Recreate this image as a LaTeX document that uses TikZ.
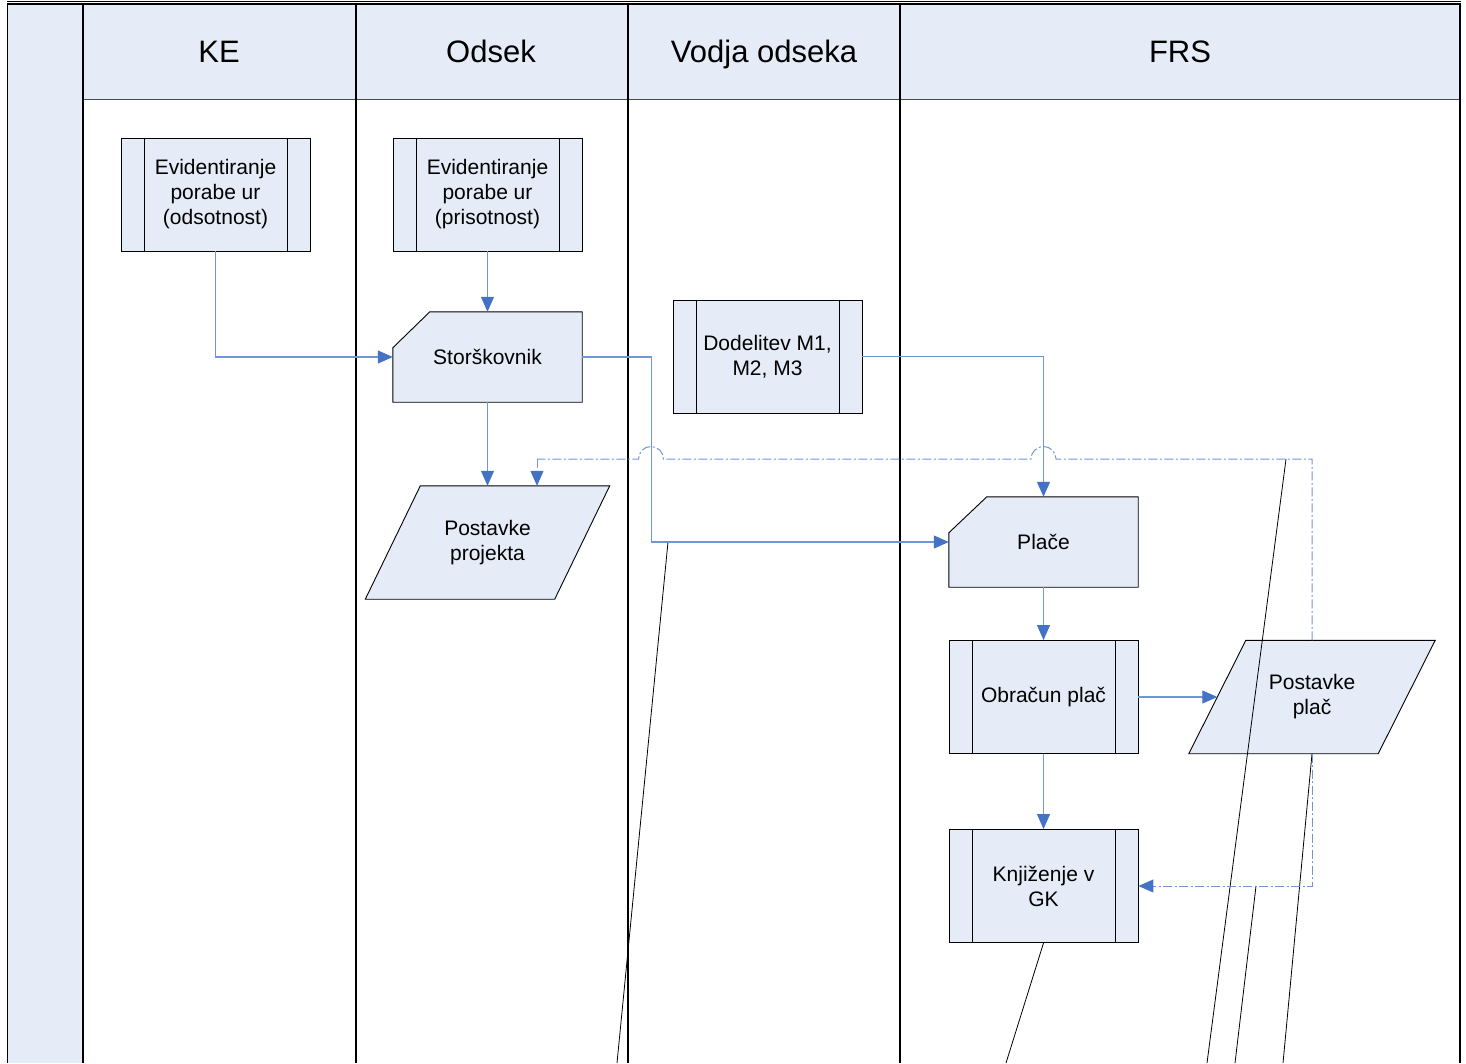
\documentclass[tikz,border=0pt]{standalone}
\usepackage{fontspec}
\setmainfont{Liberation Sans}
\usetikzlibrary{arrows.meta,calc}
\definecolor{lanefill}{HTML}{E6ECF7}
\definecolor{shapefill}{HTML}{E5ECF7}
\definecolor{conn}{HTML}{7096D6}
\definecolor{tipc}{HTML}{4472C4}
\pgfdeclarelayer{background}
\pgfsetlayers{background,main}
\begin{document}
\begin{tikzpicture}[x=1pt,y=-1pt,
  lbl/.style={font=\fontsize{21}{25}\selectfont, align=center, text=black},
  hdr/.style={font=\fontsize{31}{36}\selectfont, text=black, anchor=base, inner sep=0pt},
  box/.style={lbl, draw=black, line width=0.9pt, fill=shapefill, minimum width=189, minimum height=113, inner sep=0pt},
  subproc/.style={box, path picture={\draw[line width=0.9pt] ([xshift=23]path picture bounding box.north west) -- ([xshift=23]path picture bounding box.south west) ([xshift=-23]path picture bounding box.north east) -- ([xshift=-23]path picture bounding box.south east);}},
  ghost/.style={lbl, minimum width=189, minimum height=113, inner sep=0pt},
  cardghost/.style={lbl, minimum width=189, minimum height=90, inner sep=0pt},
  shapeline/.style={draw=black, line width=0.9pt, fill=shapefill},
  flow/.style={draw=conn, line width=1.1pt, -{Triangle[length=15pt,width=13pt,color=tipc]}},
  dd/.style={draw=conn, line width=1pt, dash pattern=on 9pt off 2.5pt on 2pt off 2.5pt},
  stray/.style={draw=black, line width=0.8pt},
  lane/.style={draw=black, line width=1.3pt}
]
\useasboundingbox (0,0) rectangle (1466,1063);
% pool background
\fill[lanefill] (8,5) rectangle (83,1063);
\fill[lanefill] (83,5) rectangle (1460,99.5);
\draw[line width=0.8pt] (7,1) -- (1461,1);
\draw[line width=1.3pt] (7,4) -- (1461,4);
\draw[line width=1.5pt] (7.5,4) -- (7.5,1063);
\draw[draw=black!70, line width=1.3pt] (83,99.5) -- (1460,99.5);
\foreach \xx in {83,356,628,900,1460} \draw[lane] (\xx,4) -- (\xx,1063);
\node[hdr] (hKE) at (219,62) {KE};
\node[hdr] (hOd) at (491,62) {Odsek};
\node[hdr] (hVo) at (764,62) {Vodja odseka};
\node[hdr] (hFR) at (1180,62) {FRS};

% shapes
\node[subproc] (ev1) at (215.5,194.5) {Evidentiranje\\porabe ur\\(odsotnost)};
\node[subproc] (ev2) at (487.5,194.5) {Evidentiranje\\porabe ur\\(prisotnost)};
\node[cardghost] (stors) at (487.5,357) {Storškovnik};
\node[subproc] (dod) at (767.5,356.5) {Dodelitev M1,\\M2, M3};
\node[ghost] (pproj) at (487.5,542.5) {Postavke\\projekta};
\node[cardghost] (place) at (1043.5,542) {Plače};
\node[subproc] (obr) at (1043.5,697) {Obračun plač};
\node[ghost] (pplac) at (1312,697) {Postavke\\plač};
\node[subproc] (knj) at (1043.5,886) {Knjiženje v\\GK};

\begin{pgfonlayer}{background}
\draw[shapeline] (stors.south west) -- (stors.south east) -- (stors.north east) -- ([xshift=37]stors.north west) -- ([yshift=-36]stors.north west) -- cycle;
\draw[shapeline] (place.south west) -- (place.south east) -- (place.north east) -- ([xshift=38]place.north west) -- ([yshift=-36]place.north west) -- cycle;
\draw[shapeline] ([xshift=27.5]pproj.north west) -- ([xshift=27.5]pproj.north east) -- ([xshift=-27.5]pproj.south east) -- ([xshift=-27.5]pproj.south west) -- cycle;
\draw[shapeline] ([xshift=28.5]pplac.north west) -- ([xshift=28.5]pplac.north east) -- ([xshift=-28.5]pplac.south east) -- ([xshift=-28.5]pplac.south west) -- cycle;
\end{pgfonlayer}

% stray lines
\draw[stray] (668,542) -- (617,1063);
\draw[stray] (knj.south) -- (1006,1063);
\draw[stray] (1286,459) -- (1207,1063);
\draw[stray] (1256,886) -- (1235,1063);
\draw[stray] (pplac.south) -- (1283,1063);

% connectors
\draw[flow] (ev1.south) |- (stors.west);
\draw[flow] (ev2.south) -- (stors.north);
\draw[flow] (stors.south) -- (pproj.north);
\draw[flow] (stors.east) -- ++(69,0) |- (place.west);
\draw[flow] (dod.east) -| (place.north);
\draw[flow] (place.south) -- (obr.north);
\draw[flow] (obr.east) -- (pplac.west);
\draw[flow] (obr.south) -- (knj.north);
\draw[dd] (pplac.north) |- (1056,459) arc[start angle=0,end angle=-180,radius=12.5] -- (663.5,459) arc[start angle=0,end angle=-180,radius=12.5] -- (537,459) coordinate (ddc);
\draw[dd, -{Triangle[length=15pt,width=13pt,color=tipc]}] (ddc) -- ([xshift=49.5]pproj.north);
\draw[dd, -{Triangle[length=15pt,width=13pt,color=tipc]}] (pplac.south) |- (knj.east);
\end{tikzpicture}
\end{document}
